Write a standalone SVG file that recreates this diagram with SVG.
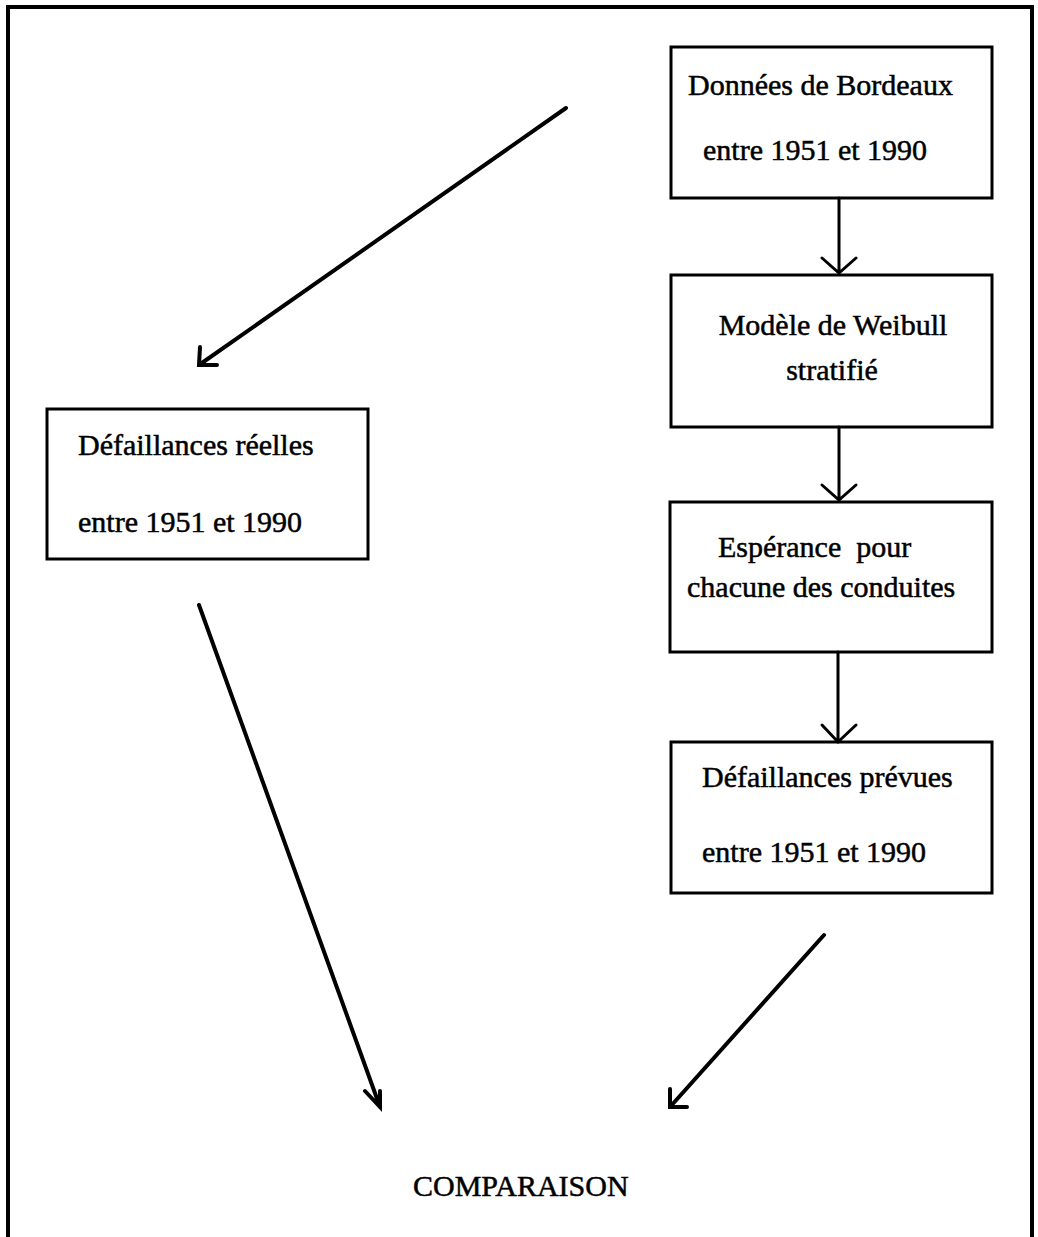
<svg xmlns="http://www.w3.org/2000/svg" width="1038" height="1237" viewBox="0 0 1038 1237">
<style>
.frame{fill:none;stroke:#000;stroke-width:4}
.box{fill:none;stroke:#000;stroke-width:3}
.t{font-family:"Liberation Serif","Times New Roman",serif;font-size:30px;fill:#000;stroke:#000;stroke-width:0.5;white-space:pre}
.c{text-anchor:middle}
.ln{fill:none;stroke:#000;stroke-width:3;stroke-linecap:round;stroke-linejoin:miter}
.dg{fill:none;stroke:#000;stroke-width:4;stroke-linecap:round;stroke-linejoin:miter}
</style>
<rect width="1038" height="1237" fill="#fff"/>
<path class="frame" d="M8,1240 L8,7 L1032,7 L1032,1240"/>
<g id="n1">
<rect class="box" x="671" y="47" width="321" height="151"/>
<text class="t" x="688" y="95">Données de Bordeaux</text>
<text class="t" x="703" y="160">entre 1951 et 1990</text>
</g>
<g id="n2">
<rect class="box" x="671" y="275" width="321" height="152"/>
<text class="t c" x="833" y="335">Modèle de Weibull</text>
<text class="t c" x="832" y="380">stratifié</text>
</g>
<g id="n3">
<rect class="box" x="670" y="502" width="322" height="150"/>
<text class="t" x="718" y="557">Espérance  pour</text>
<text class="t" x="687" y="597">chacune des conduites</text>
</g>
<g id="n4">
<rect class="box" x="671" y="742" width="321" height="151"/>
<text class="t" x="702" y="787">Défaillances prévues</text>
<text class="t" x="702" y="862">entre 1951 et 1990</text>
</g>
<g id="n5">
<rect class="box" x="47" y="409" width="321" height="150"/>
<text class="t" x="78" y="455">Défaillances réelles</text>
<text class="t" x="78" y="532">entre 1951 et 1990</text>
</g>
<g id="n6">
<text class="t" x="413" y="1196">COMPARAISON</text>
</g>
<g id="connectors">
<path class="ln" d="M839,198 L839,273 M822,258 L839,273 L856,258"/>
<path class="ln" d="M839,427 L839,500 M822,485 L839,500 L856,485"/>
<path class="ln" d="M838,652 L838,742 M822,725 L838,742 L856,725"/>
<path class="dg" d="M566,108 L199,365 M200,347 L199,365 L217,365"/>
<path class="dg" d="M199,605 L380,1107 M365,1091 L380,1107 L380,1091"/>
<path class="dg" d="M824,935 L670,1107 M670,1089 L670,1107 L687,1107"/>
</g>
</svg>
